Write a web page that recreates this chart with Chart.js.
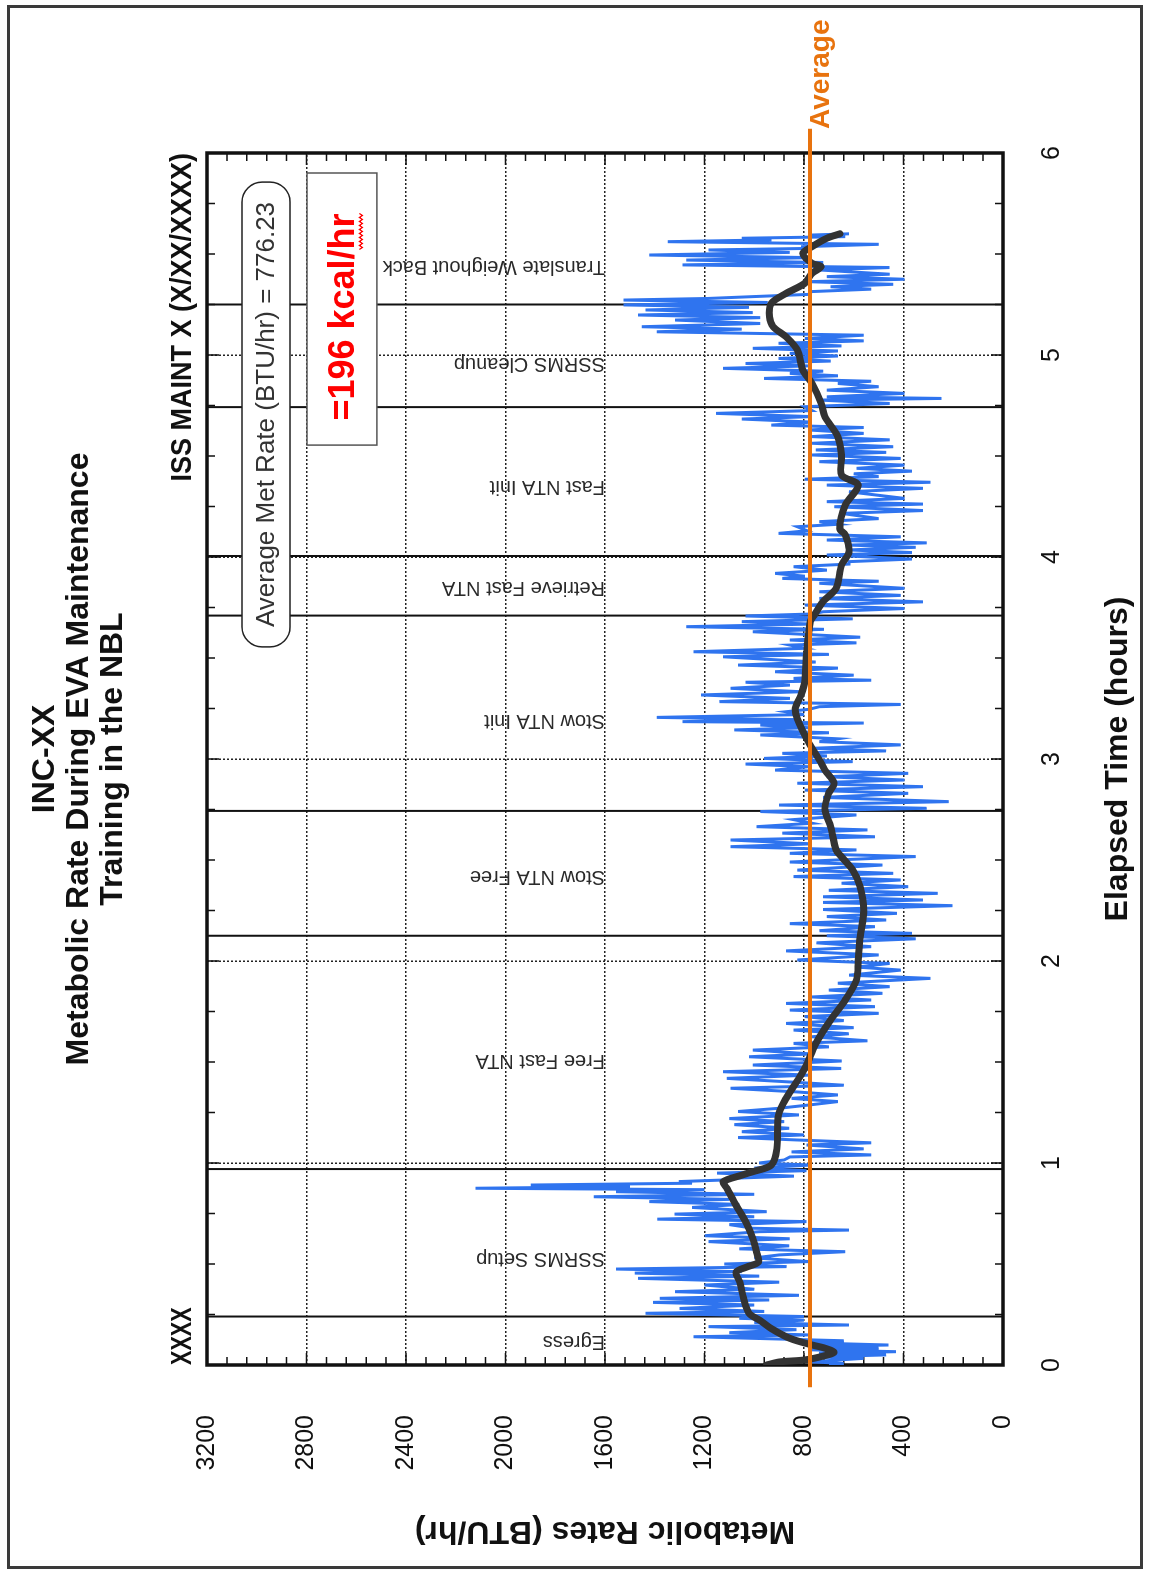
<!DOCTYPE html>
<html>
<head>
<meta charset="utf-8">
<title>INC-XX Metabolic Rate During EVA Maintenance Training in the NBL</title>
<script src="https://cdn.jsdelivr.net/npm/chart.js@4.4.1/dist/chart.umd.min.js"></script>
<style>
  html, body { margin: 0; padding: 0; background: #fff; overflow: hidden; width: 1150px; height: 1574px; }
  #frame { position: absolute; left: 7px; top: 5px; width: 1130px; height: 1558px; border: 3px solid #3a3a3a; }
  /* the whole figure is turned a quarter turn counter-clockwise */
  #turn { position: absolute; left: 12px; top: 10px; width: 1554px; height: 1126px;
          transform-origin: 0 0; transform: translate(0, 1554px) rotate(-90deg); }
</style>
</head>
<body>
<div id="frame"></div>
<div id="turn"><canvas id="met-chart" width="1554" height="1126"></canvas></div>
<script>
const SANS = "'Liberation Sans', Arial, Helvetica, sans-serif";

const titleLines = ['INC-XX', 'Metabolic Rate During EVA Maintenance', 'Training in the NBL'];
const timeTickLabels = ['0', '1', '2', '3', '4', '5', '6'];
const rateTickLabels = ['0', '400', '800', '1200', '1600', '2000', '2400', '2800', '3200'];

const avgRate = 776.23;
const avgLineHours = [-0.11, 6.12];

const activityBounds = [0.24, 0.97, 2.125, 2.743, 3.71, 4.005, 4.742, 5.25];
const activityNames = ['Egress', 'SSRMS Setup', 'Free Fast NTA', 'Stow NTA Free', 'Stow NTA Init',
  'Retrieve Fast NTA', 'Fast NTA Init', 'SSRMS Cleanup', 'Translate Weighout Back'];
const activityLabelHours = [0.114, 0.525, 1.505, 2.42, 3.19, 3.85, 4.35, 4.957, 5.44];

// raw metabolic rate trace (BTU/hr)
const blueHours = [
  0.000, 0.008, 0.016, 0.025, 0.033, 0.040, 0.050, 0.058, 0.066, 0.075,
  0.083, 0.092, 0.099, 0.110, 0.120, 0.140, 0.149, 0.160, 0.175, 0.190,
  0.198, 0.210, 0.222, 0.231, 0.240, 0.256, 0.265, 0.280, 0.297, 0.310,
  0.322, 0.330, 0.345, 0.363, 0.375, 0.396, 0.410, 0.429, 0.440, 0.455,
  0.462, 0.475, 0.487, 0.500, 0.512, 0.530, 0.545, 0.561, 0.575, 0.590,
  0.611, 0.625, 0.640, 0.660, 0.668, 0.677, 0.695, 0.710, 0.722, 0.734,
  0.747, 0.759, 0.780, 0.795, 0.809, 0.820, 0.833, 0.845, 0.858, 0.868,
  0.875, 0.883, 0.891, 0.900, 0.908, 0.916, 0.924, 0.935, 0.950, 0.962,
  0.975, 0.990, 1.000, 1.015, 1.030, 1.040, 1.055, 1.070, 1.089, 1.100,
  1.114, 1.126, 1.139, 1.155, 1.172, 1.190, 1.205, 1.220, 1.238, 1.255,
  1.271, 1.290, 1.304, 1.320, 1.337, 1.352, 1.370, 1.385, 1.400, 1.419,
  1.435, 1.452, 1.468, 1.485,
  1.505, 1.526, 1.540, 1.559, 1.575, 1.592, 1.605, 1.625, 1.640, 1.658,
  1.670, 1.691, 1.705, 1.725, 1.741, 1.757, 1.774, 1.790, 1.807, 1.822,
  1.840, 1.856, 1.873, 1.890, 1.914, 1.930, 1.955, 1.970, 1.988, 2.005,
  2.030, 2.050, 2.071, 2.090, 2.110, 2.125, 2.137, 2.150, 2.170, 2.185,
  2.203, 2.220, 2.236, 2.255, 2.274, 2.290, 2.302, 2.318, 2.335, 2.350,
  2.368, 2.385, 2.401, 2.418, 2.434, 2.450, 2.475, 2.490, 2.517, 2.533,
  2.550, 2.566, 2.580, 2.599, 2.615, 2.633, 2.649, 2.665, 2.682, 2.700,
  2.723, 2.740, 2.756, 2.772, 2.789, 2.810, 2.830, 2.846, 2.863, 2.880,
  2.896, 2.912, 2.929, 2.945, 2.962, 2.975, 2.987,
  3.003, 3.015, 3.028, 3.040, 3.053, 3.070, 3.086, 3.100, 3.119, 3.130,
  3.144, 3.155, 3.168, 3.178, 3.185, 3.195, 3.206, 3.220, 3.234, 3.246,
  3.259, 3.270, 3.284, 3.300, 3.317, 3.333, 3.350, 3.366, 3.380, 3.390,
  3.399, 3.415, 3.432, 3.450, 3.465, 3.480, 3.506, 3.518, 3.531, 3.548,
  3.564, 3.575, 3.589, 3.603, 3.630, 3.642, 3.655, 3.668, 3.680, 3.694,
  3.708, 3.718, 3.729, 3.745, 3.762, 3.778, 3.795, 3.810, 3.828, 3.845,
  3.870, 3.880, 3.894, 3.905, 3.919, 3.935, 3.952, 3.965, 3.977, 3.990,
  4.010, 4.022, 4.035, 4.048, 4.059, 4.070, 4.084, 4.100, 4.117, 4.130,
  4.150, 4.162, 4.175, 4.190, 4.216, 4.230, 4.249, 4.262, 4.274, 4.290,
  4.323, 4.340, 4.356, 4.370, 4.385, 4.398, 4.412, 4.425, 4.439, 4.455,
  4.472, 4.488, 4.505,
  4.518, 4.530, 4.546, 4.563, 4.580, 4.596, 4.612, 4.629, 4.641, 4.653,
  4.668, 4.683, 4.695, 4.711, 4.725, 4.744, 4.760, 4.777, 4.785, 4.793,
  4.810, 4.826, 4.843, 4.859, 4.870, 4.884, 4.897, 4.909, 4.920, 4.934,
  4.946, 4.958, 4.970, 4.983, 4.995, 5.008, 5.020, 5.033, 5.045, 5.058,
  5.070, 5.082, 5.098, 5.115, 5.128, 5.140, 5.156, 5.173, 5.185, 5.198,
  5.210, 5.223, 5.236, 5.248, 5.260, 5.272, 5.280, 5.289, 5.300, 5.314,
  5.326, 5.338, 5.350, 5.363, 5.375, 5.388, 5.400, 5.421, 5.433, 5.446,
  5.458, 5.470, 5.482, 5.495, 5.508, 5.520, 5.528, 5.536, 5.548, 5.561,
  5.570, 5.578, 5.586, 5.594, 5.600
];
const blueRates = [
  700, 640, 780, 660, 560, 760, 470, 740, 430, 770,
  500, 760, 460, 790, 640, 1244, 780, 1100, 830, 1184,
  619, 1000, 800, 1060, 800, 1437, 960, 1300, 1000, 1407,
  940, 1380, 820, 1318, 1000, 1200, 900, 1467, 980, 1480,
  1050, 1556, 870, 1120, 780, 1000, 900, 634, 1060, 860,
  1184, 857, 1199, 980, 619, 1006, 1100, 790, 1390, 1000,
  1320, 950, 1250, 1060, 1422, 1100, 1645, 1000, 1556, 1200,
  2121, 1500, 1898, 1250, 1303, 1120, 1100, 840, 1150, 790,
  1000, 770, 980, 880, 857, 530, 850, 560, 790, 530,
  827, 1065, 800, 1050, 860, 1080, 880, 1100, 820, 1065,
  900, 760, 664, 850, 664, 830, 1095, 640, 840, 1110,
  780, 1125, 650, 1006,
  649, 1021, 770, 1006, 700, 842, 545, 768, 620, 842,
  600, 872, 640, 797, 500, 857, 515, 872, 530, 768,
  485, 700, 456, 664, 292, 619, 411, 589, 456, 827,
  500, 872, 530, 750, 351, 708, 366, 738, 515, 857,
  470, 708, 426, 723, 203, 723, 322, 723, 262, 700,
  381, 649, 411, 842, 441, 827, 485, 857, 351, 857,
  589, 1095, 768, 1095, 515, 887, 545, 991, 768, 842,
  589, 976, 307, 900, 218, 723, 381, 797, 322, 827,
  396, 708, 381, 916, 783, 1035, 604,
  961, 708, 887, 470, 768, 411, 738, 664, 976, 700,
  1080, 780, 976, 560, 1288, 827, 1392, 800, 872, 780,
  738, 411, 1140, 857, 1214, 812, 1095, 857, 1035, 530,
  842, 600, 916, 664, 1065, 753, 1125, 700, 1244, 797,
  857, 589, 857, 574, 1006, 720, 1273, 768, 1050, 604,
  1035, 768, 723, 396, 797, 322, 738, 411, 738, 396,
  738, 500, 887, 797, 916, 708, 842, 619, 619, 366,
  708, 366, 619, 351, 619, 307, 708, 411, 902, 787,
  827, 664, 738, 500, 649, 322, 678, 322, 708, 396,
  619, 322, 708, 292, 797, 500, 600, 366, 589, 396,
  738, 411, 768,
  470, 753, 441, 768, 456, 768, 560, 783, 560, 931,
  768, 1050, 768, 1154, 768, 797, 456, 738, 247, 708,
  396, 708, 500, 664, 530, 961, 664, 857, 723, 1125,
  783, 1035, 693, 902, 664, 857, 664, 1006, 649, 902,
  560, 797, 560, 1392, 1050, 1452, 976, 1318, 976, 1467,
  1006, 1437, 1021, 1526, 946, 1526, 1184, 1006, 783, 768,
  530, 693, 441, 783, 396, 708, 456, 738, 456, 1288,
  723, 1273, 768, 1422, 857, 1184, 768, 812, 500, 1348,
  931, 1050, 634, 768, 619
];

// smoothed trace (BTU/hr)
const smoothHours = [
  0.000, 0.015, 0.025, 0.045, 0.063, 0.085, 0.099, 0.132, 0.180, 0.220,
  0.256, 0.330, 0.410, 0.460, 0.485, 0.510, 0.560, 0.627, 0.710, 0.790,
  0.875, 0.907, 0.940, 0.957, 0.990, 1.070, 1.240, 1.320, 1.436, 1.485,
  1.590, 1.708, 1.807, 1.906, 2.005, 2.120, 2.250, 2.368, 2.450, 2.516,
  2.550, 2.665, 2.750, 2.830, 2.880, 2.945, 2.995, 3.086, 3.200, 3.250,
  3.317, 3.380, 3.515, 3.680, 3.710, 3.780, 3.845, 3.960, 4.026, 4.110,
  4.140, 4.257, 4.356, 4.406, 4.505, 4.596, 4.695, 4.760, 4.860, 4.926,
  5.025, 5.090, 5.140, 5.190, 5.256, 5.305, 5.355, 5.404, 5.437, 5.454,
  5.503, 5.536, 5.578, 5.600
];
const smoothRates = [
  950, 900, 797, 720, 679, 720, 768, 857, 931, 976,
  1021, 1043, 1058, 1073, 1030, 983, 991, 1006, 1035, 1073,
  1110, 1125, 1050, 1006, 931, 909, 902, 872, 812, 790,
  753, 693, 634, 589, 582, 574, 560, 574, 604, 649,
  671, 693, 716, 701, 679, 716, 738, 783, 827, 835,
  812, 797, 790, 775, 760, 723, 671, 649, 619, 634,
  656, 634, 582, 649, 649, 664, 716, 731, 768, 805,
  827, 872, 924, 939, 931, 872, 797, 768, 731, 768,
  805, 768, 708, 656
];

function toPoints(xs, ys) {
  return xs.map((x, i) => ({ x, y: ys[i] }));
}

function pill(ctx, x, y, w, h, r) {
  ctx.beginPath();
  ctx.moveTo(x + r, y);
  ctx.lineTo(x + w - r, y);
  ctx.arcTo(x + w, y, x + w, y + r, r);
  ctx.lineTo(x + w, y + h - r);
  ctx.arcTo(x + w, y + h, x + w - r, y + h, r);
  ctx.lineTo(x + r, y + h);
  ctx.arcTo(x, y + h, x, y + h - r, r);
  ctx.lineTo(x, y + r);
  ctx.arcTo(x, y, x + r, y, r);
  ctx.closePath();
}

function squeezedText(ctx, text, x, y, align, squeeze) {
  ctx.save();
  ctx.translate(x, y);
  ctx.scale(squeeze, 1);
  ctx.textAlign = align;
  ctx.fillText(text, 0, 0);
  ctx.restore();
}

const overlay = {
  id: 'overlay',
  beforeDatasetsDraw(chart) {
    const { ctx, chartArea: a, scales: { x, y } } = chart;
    ctx.save();

    // task boundaries
    ctx.strokeStyle = '#111';
    ctx.lineWidth = 2;
    ctx.beginPath();
    activityBounds.forEach((h) => {
      const px = x.getPixelForValue(h);
      ctx.moveTo(px, a.top);
      ctx.lineTo(px, a.bottom);
    });
    ctx.stroke();

    // inward tick marks on all four sides
    ctx.lineWidth = 1.5;
    ctx.beginPath();
    for (let q = 0; q <= 24; q++) {
      const px = x.getPixelForValue(q / 4);
      const len = q % 4 === 0 ? 12 : 8;
      ctx.moveTo(px, a.top); ctx.lineTo(px, a.top + len);
      ctx.moveTo(px, a.bottom); ctx.lineTo(px, a.bottom - len);
    }
    for (let v = 0; v <= 3200; v += 80) {
      const py = y.getPixelForValue(v);
      const len = v % 400 === 0 ? 12 : 8;
      ctx.moveTo(a.left, py); ctx.lineTo(a.left + len, py);
      ctx.moveTo(a.right, py); ctx.lineTo(a.right - len, py);
    }
    ctx.stroke();

    ctx.lineWidth = 3.5;
    ctx.strokeRect(a.left, a.top, a.right - a.left, a.bottom - a.top);
    ctx.restore();
  },
  afterDatasetsDraw(chart) {
    const { ctx, chartArea: a, scales: { x, y } } = chart;
    ctx.save();

    // task names, read upward from 1600 BTU/hr
    ctx.fillStyle = '#2a2a2a';
    ctx.font = `20px ${SANS}`;
    ctx.textAlign = 'left';
    ctx.textBaseline = 'middle';
    const baseY = y.getPixelForValue(1600);
    activityNames.forEach((name, i) => {
      ctx.save();
      ctx.translate(x.getPixelForValue(activityLabelHours[i]), baseY);
      ctx.rotate(-Math.PI / 2);
      ctx.fillText(name, 0, 0);
      ctx.restore();
    });

    // average met rate box
    const b1x0 = x.getPixelForValue(3.555), b1x1 = x.getPixelForValue(5.856);
    const b1y0 = y.getPixelForValue(3059), b1y1 = y.getPixelForValue(2866);
    pill(ctx, b1x0, b1y0, b1x1 - b1x0, b1y1 - b1y0, 20);
    ctx.fillStyle = '#fff';
    ctx.fill();
    ctx.strokeStyle = '#222';
    ctx.lineWidth = 1.5;
    ctx.stroke();
    ctx.fillStyle = '#333';
    ctx.font = `26px ${SANS}`;
    ctx.textAlign = 'center';
    ctx.fillText(`Average Met Rate (BTU/hr) = ${avgRate.toFixed(2)}`, (b1x0 + b1x1) / 2, (b1y0 + b1y1) / 2 + 1);

    // kcal box
    const b2x0 = x.getPixelForValue(4.554), b2x1 = x.getPixelForValue(5.901);
    const b2y0 = y.getPixelForValue(2798), b2y1 = y.getPixelForValue(2517);
    ctx.fillStyle = '#fff';
    ctx.fillRect(b2x0, b2y0, b2x1 - b2x0, b2y1 - b2y0);
    ctx.strokeStyle = '#555';
    ctx.lineWidth = 1.5;
    ctx.strokeRect(b2x0, b2y0, b2x1 - b2x0, b2y1 - b2y0);
    const kcalText = '=196 kcal/hr';
    const kx = (b2x0 + b2x1) / 2 - 8;
    const ky = (b2y0 + b2y1) / 2 + 2;
    ctx.fillStyle = '#ff0000';
    ctx.font = `bold 36px ${SANS}`;
    ctx.fillText(kcalText, kx, ky);
    const tw = ctx.measureText(kcalText).width;
    const hw = ctx.measureText('hr').width;
    ctx.strokeStyle = '#ff0000';
    ctx.lineWidth = 1.2;
    ctx.beginPath();
    for (let sx = kx + tw / 2 - hw, k = 0; sx <= kx + tw / 2; sx += 2, k++) {
      const sy = ky + 17 + (k % 2 ? 1.5 : -1.5);
      if (k === 0) ctx.moveTo(sx, sy); else ctx.lineTo(sx, sy);
    }
    ctx.stroke();

    // average label beyond the plot end
    ctx.fillStyle = '#e8730e';
    ctx.font = `bold 28px ${SANS}`;
    ctx.textAlign = 'center';
    ctx.fillText('Average', x.getPixelForValue(6.39), y.getPixelForValue(avgRate) + 11);

    // corner captions
    ctx.fillStyle = '#111';
    ctx.font = `bold 30px ${SANS}`;
    squeezedText(ctx, 'XXXX', a.left, a.top - 24, 'left', 0.72);
    squeezedText(ctx, 'ISS MAINT X (X/XX/XXXX)', a.right, a.top - 24, 'right', 0.9);

    ctx.restore();
  }
};

Chart.defaults.font.family = SANS;
Chart.defaults.color = '#111';

new Chart(document.getElementById('met-chart'), {
  type: 'line',
  data: {
    datasets: [
      {
        label: 'Average',
        data: toPoints(avgLineHours, avgLineHours.map(() => avgRate)),
        borderColor: '#e8730e',
        borderWidth: 4,
        pointRadius: 0,
        clip: false,
        order: 0
      },
      {
        label: 'Smoothed',
        data: toPoints(smoothHours, smoothRates),
        borderColor: '#333333',
        borderWidth: 7,
        borderJoinStyle: 'round',
        borderCapStyle: 'round',
        tension: 0.3,
        pointRadius: 0,
        order: 1
      },
      {
        label: 'Metabolic Rate',
        data: toPoints(blueHours, blueRates),
        borderColor: '#2f74ef',
        borderWidth: 3,
        tension: 0,
        pointRadius: 0,
        order: 2
      }
    ]
  },
  options: {
    responsive: false,
    animation: false,
    events: [],
    layout: { padding: { left: 0, right: 143, top: 0, bottom: 0 } },
    plugins: {
      legend: { display: false },
      tooltip: { enabled: false },
      title: {
        display: true,
        text: titleLines,
        fullSize: false,
        color: '#111',
        font: { size: 32, weight: 'bold', lineHeight: 1.0625 },
        padding: { top: 16, bottom: 77 }
      }
    },
    scales: {
      x: {
        type: 'linear',
        position: 'bottom',
        min: 0,
        max: 6,
        afterFit: (s) => { s.height = 135; },
        ticks: {
          stepSize: 1,
          autoSkip: false,
          maxRotation: 0,
          padding: 34,
          color: '#111',
          font: { size: 25 },
          callback: (v) => timeTickLabels[v] ?? ''
        },
        grid: { color: '#222', lineWidth: 1.5, drawTicks: false },
        border: { display: false, dash: [2, 2] },
        title: {
          display: true,
          text: 'Elapsed Time (hours)',
          color: '#111',
          font: { size: 32, weight: 'bold' },
          padding: { top: 0, bottom: 1 }
        }
      },
      y: {
        type: 'linear',
        min: 0,
        max: 3200,
        afterFit: (s) => { s.width = 199; },
        ticks: {
          stepSize: 400,
          autoSkip: false,
          padding: 50,
          color: '#111',
          font: { size: 25 },
          callback: (v) => rateTickLabels[v / 400] ?? ''
        },
        grid: { color: '#222', lineWidth: 1.5, drawTicks: false },
        border: { display: false, dash: [2, 2] },
        title: {
          display: true,
          text: 'Metabolic Rates (BTU/hr)',
          color: '#111',
          font: { size: 32, weight: 'bold' },
          padding: { top: 14, bottom: 0 }
        }
      }
    }
  },
  plugins: [overlay]
});
</script>
</body>
</html>
